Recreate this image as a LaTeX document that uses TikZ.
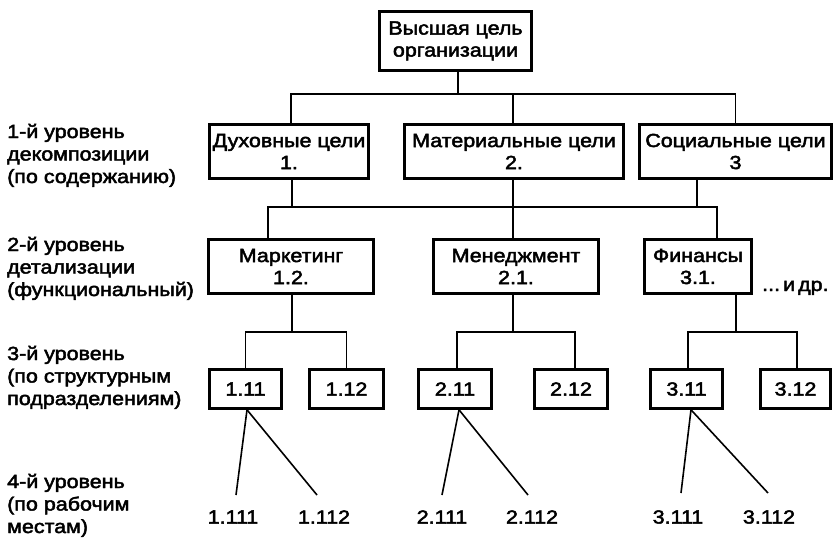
\documentclass[tikz,border=0pt]{standalone}
\usepackage{fontspec}
\setmainfont[FakeStretch=1.13, FakeBold=2.5]{Liberation Sans}
\begin{document}
\begin{tikzpicture}[x=1pt,y=-1pt,
  every node/.style={font=\fontsize{19}{22}\selectfont, inner sep=0pt},
  box/.style={draw, line width=2.6pt, align=center, minimum height=#1},
  box/.default=54pt,
  leaf/.style={draw, line width=2.6pt, minimum height=39pt},
  wire/.style={line width=1.6pt},
  lvl/.style={align=left, anchor=base west, font=\fontsize{19}{22.5}\selectfont}]
\useasboundingbox (0,0) rectangle (835,549);

% level captions on the left (placed by the baseline of their last line)
\node[lvl] (cap1) at (7,183) {1-й уровень\\декомпозиции\\(по содержанию)};
\node[lvl] (cap2) at (7,296) {2-й уровень\\детализации\\(функциональный)};
\node[lvl] (cap3) at (7,405) {3-й уровень\\(по структурным\\подразделениям)};
\node[lvl] (cap4) at (7,533) {4-й уровень\\(по рабочим\\местам)};

% root
\node[box=59pt, minimum width=152pt] (top) at (455.5,41) {Высшая цель\\организации};

% first level
\node[box, minimum width=159pt] (d1) at (289,151.5) {Духовные цели\\1.};
\node[box, minimum width=219pt] (m1) at (514,151.5) {Материальные цели\\2.};
\node[box, minimum width=192pt] (s1) at (735.5,151.5) {Социальные цели\\3};

% second level
\node[box, minimum width=165pt] (mk) at (291,266.5) {Маркетинг\\1.2.};
\node[box, minimum width=165pt] (mn) at (516,266.5) {Менеджмент\\2.1.};
\node[box, minimum width=107pt] (fn) at (698,266.5) {Финансы\\3.1.};
\node[anchor=base west] (etc) at (762,291) {...\hspace{3pt}и\hspace{3pt}др.};

% third level
\node[leaf, minimum width=72pt] (b111) at (245.5,389) {1.11};
\node[leaf, minimum width=74pt] (b112) at (346.5,389) {1.12};
\node[leaf, minimum width=73pt] (b211) at (455,389) {2.11};
\node[leaf, minimum width=73pt] (b212) at (571,389) {2.12};
\node[leaf, minimum width=72pt] (b311) at (686.5,389) {3.11};
\node[leaf, minimum width=70pt] (b312) at (795.5,389) {3.12};

% fourth level
\node (w1111) at (233,517) {1.111};
\node (w1112) at (324,517) {1.112};
\node (w2111) at (442,517) {2.111};
\node (w2112) at (532,517) {2.112};
\node (w3111) at (678,517) {3.111};
\node (w3112) at (769,517) {3.112};
\coordinate (e1111) at (236,495);
\coordinate (e1112) at (317,495);
\coordinate (e2111) at (442,495);
\coordinate (e2112) at (528,495);
\coordinate (e3111) at (681,493);
\coordinate (e3112) at (768,493);

% root to first level
\draw[wire] ([xshift=2.5pt]top.south) -- ++(0,22);
\draw[wire] ([xshift=2pt]d1.north) -- ++(0,-29) -| (s1.north);
\draw[wire] ([xshift=-1pt]m1.north) -- ++(0,-29);

% first to second level
\draw[wire] ([xshift=3pt]d1.south) -- ++(0,27);
\draw[wire] ([xshift=-23pt]mk.north) -- ++(0,-31) -| ([xshift=19pt]fn.north);
\draw[wire] ([xshift=-1pt]m1.south) -- ([xshift=-3pt]mn.north);
\draw[wire] ([xshift=-38.5pt]s1.south) -- ++(0,27);

% second to third level
\draw[wire] ([xshift=1pt]mk.south) -- ++(0,37);
\draw[wire] (b111.north) -- ++(0,-36) -| (b112.north);
\draw[wire] ([xshift=-3pt]mn.south) -- ++(0,37);
\draw[wire] ([xshift=2pt]b211.north) -- ++(0,-36) -| ([xshift=4pt]b212.north);
\draw[wire] ([xshift=38pt]fn.south) -- ++(0,37);
\draw[wire] ([xshift=1.5pt]b311.north) -- ++(0,-36) -| ([xshift=1.5pt]b312.north);

% third to fourth level
\draw[wire] ([xshift=1.5pt]b111.south) -- (e1111);
\draw[wire] ([xshift=1.5pt]b111.south) -- (e1112);
\draw[wire] ([xshift=4pt]b211.south) -- (e2111);
\draw[wire] ([xshift=4pt]b211.south) -- (e2112);
\draw[wire] ([xshift=4.5pt]b311.south) -- (e3111);
\draw[wire] ([xshift=4.5pt]b311.south) -- (e3112);
\end{tikzpicture}
\end{document}
